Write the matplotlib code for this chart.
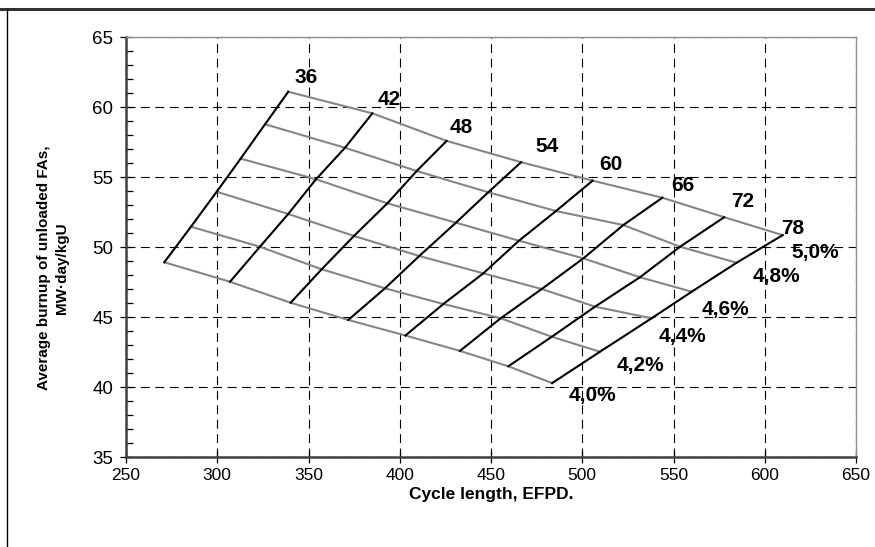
import numpy as np
import matplotlib
matplotlib.use('Agg')
import matplotlib.pyplot as plt
from matplotlib.lines import Line2D
from matplotlib import font_manager

# feed batch sizes (black lines) and enrichments (gray lines)
batches = [36, 42, 48, 54, 60, 66, 72, 78]
enrichments = ['4,0%', '4,2%', '4,4%', '4,6%', '4,8%', '5,0%']

# cycle length, EFPD: one row per batch, columns follow enrichments 4.0 -> 5.0
cycle_length = [
    [271.0, 285.6, 299.7, 312.8, 326.2, 338.9],
    [307.0, 323.4, 338.9, 354.1, 370.0, 385.0],
    [340.2, 357.2, 374.9, 393.2, 409.3, 425.7],
    [371.8, 391.9, 410.7, 430.8, 448.5, 466.5],
    [403.1, 423.9, 445.8, 465.3, 485.6, 505.7],
    [433.0, 455.3, 477.8, 500.6, 522.5, 543.9],
    [459.5, 483.3, 507.0, 531.6, 553.6, 577.8],
    [483.5, 509.7, 538.0, 560.0, 584.6, 609.8],
]
# average burnup of unloaded FAs, MW*day/kgU
burnup = [
    [48.93, 51.47, 53.97, 56.33, 58.79, 61.11],
    [47.54, 50.04, 52.38, 54.86, 57.11, 59.57],
    [46.04, 48.43, 50.81, 53.14, 55.45, 57.60],
    [44.81, 47.07, 49.38, 51.76, 53.93, 56.08],
    [43.70, 45.95, 48.14, 50.47, 52.59, 54.76],
    [42.60, 44.93, 47.02, 49.21, 51.59, 53.54],
    [41.50, 43.61, 45.76, 47.86, 50.04, 52.15],
    [40.30, 42.54, 44.93, 46.83, 48.90, 50.87],
]

x_ticks = [250, 300, 350, 400, 450, 500, 550, 600, 650]
y_ticks = [35, 40, 45, 50, 55, 60, 65]

X = np.array(cycle_length)
Y = np.array(burnup)

plt.rcParams['font.family'] = ['Liberation Sans', 'DejaVu Sans']

# narrow face for the x axis texts, if there is one
installed = {f.name for f in font_manager.fontManager.ttflist}
if 'Liberation Sans Narrow' in installed:
    narrow = dict(family='Liberation Sans Narrow', size=14)
else:
    narrow = dict(family='Liberation Sans', size=12.5)

fig = plt.figure(figsize=(8.75, 5.47), dpi=100)
ax = fig.add_axes([126 / 875, 1 - 457.3 / 547, 730 / 875, 420 / 547])

# gray lines: constant enrichment
for j in range(len(enrichments)):
    ax.plot(X[:, j], Y[:, j], color='#858585', lw=1.5, zorder=3)
# black lines: constant batch size
for i in range(len(batches)):
    ax.plot(X[i], Y[i], color='black', lw=1.5, zorder=4)

# batch labels above the top of each black line (offsets in points)
batch_offsets = [(12.7, 10), (11.8, 9.6), (10.4, 9.5), (18.5, 11), (13.3, 11.3),
                 (14.8, 9), (13, 11.4), (7.2, 5.1)]
for i, b in enumerate(batches):
    ax.annotate(str(b), (X[i, -1], Y[i, -1]), xytext=batch_offsets[i],
                textcoords='offset points', ha='center', va='center',
                fontsize=15, fontweight='bold', zorder=5)

# enrichment labels below the last black line
enr_offsets = [(28.8, -8.9), (29.3, -9.6), (21.9, -13.3), (24.2, -12.5),
               (28.5, -9.7), (23.7, -12.6)]
for j, e in enumerate(enrichments):
    ax.annotate(e, (X[-1, j], Y[-1, j]), xytext=enr_offsets[j],
                textcoords='offset points', ha='center', va='center',
                fontsize=15, fontweight='bold', zorder=5)

ax.set_xlim(250, 650)
ax.set_ylim(35, 65)
ax.set_xticks(x_ticks)
ax.set_yticks(y_ticks)
ax.set_yticks(np.arange(35, 66, 1), minor=True)
ax.tick_params(axis='both', which='major', direction='inout', length=8,
               width=0.9, pad=4, colors='black')
ax.tick_params(axis='y', which='major', labelsize=13.5, pad=5)
ax.tick_params(axis='y', which='minor', direction='in', length=5, width=0.9)
for lab in ax.get_xticklabels():
    lab.set_family(narrow['family'])
    lab.set_fontsize(narrow['size'])

ax.grid(True, which='major', color='black', lw=0.8, ls=(0, (8, 5)), zorder=1)
ax.set_axisbelow(True)

for side in ['left', 'bottom']:
    ax.spines[side].set_color('#404040')
    ax.spines[side].set_linewidth(1.8)
for side in ['top', 'right']:
    ax.spines[side].set_color('#909090')
    ax.spines[side].set_linewidth(1.0)

fig.text(491 / 875, 1 - 494 / 547, 'Cycle length, EFPD.', ha='center', va='center',
         fontsize=narrow['size'], fontweight='bold', family=narrow['family'])
fig.text(53 / 875, 1 - 268 / 547, 'Average burnup of unloaded FAs,\nMW\u00b7day/kgU',
         rotation=90, ha='center', va='center', multialignment='center',
         fontsize=11, fontweight='bold', linespacing=1.3)

# page frame around the chart
fig.add_artist(Line2D([0, 1], [1 - 9 / 547, 1 - 9 / 547], transform=fig.transFigure,
                      color='#333333', lw=2.2))
fig.add_artist(Line2D([7 / 875, 7 / 875], [0, 1 - 9 / 547], transform=fig.transFigure,
                      color='black', lw=1.0))

fig.savefig('out.png', dpi=100)
